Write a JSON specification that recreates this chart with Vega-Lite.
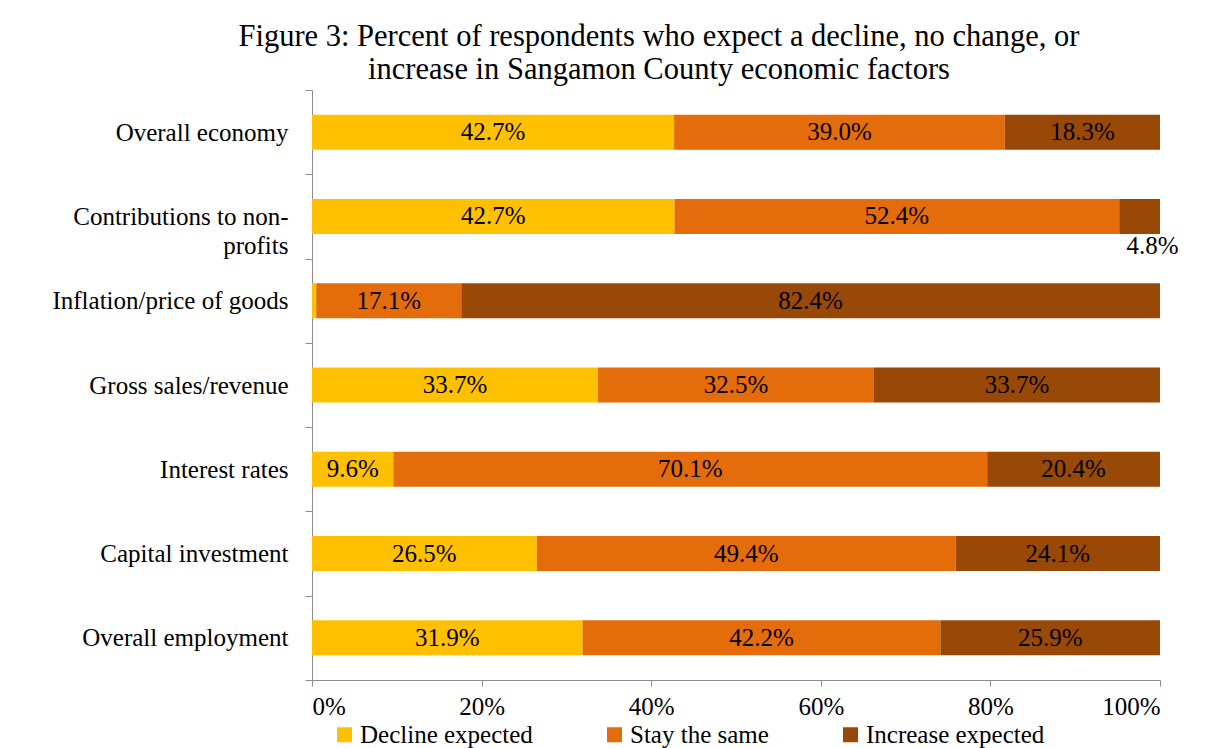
{
  "$schema": "https://vega.github.io/schema/vega-lite/v6.json",
  "autosize": {"type": "none"},
  "width": 848,
  "height": 590,
  "padding": {"left": 312, "top": 90, "right": 61, "bottom": 78},
  "background": "white",
  "config": {
    "font": "Liberation Serif",
    "view": {"stroke": null},
    "axis": {"labelFont": "Liberation Serif", "labelColor": "black", "labelFontSize": 25, "domainColor": "#8c8c8c", "tickColor": "#8c8c8c", "grid": false, "title": null}
  },
  "title": {
    "text": ["Figure 3: Percent of  respondents who expect a decline, no change, or", "increase in Sangamon County economic factors"],
    "font": "Liberation Serif",
    "fontSize": 30.5,
    "fontWeight": "normal",
    "color": "black",
    "anchor": "middle",
    "dx": -77,
    "offset": -7,
    "lineHeight": 33
  },
  "data": {
    "values": [
      {"factor": "Overall economy", "response": "Decline expected", "value": 0.427},
      {"factor": "Overall economy", "response": "Stay the same", "value": 0.390},
      {"factor": "Overall economy", "response": "Increase expected", "value": 0.183},
      {"factor": "Contributions to non-profits", "response": "Decline expected", "value": 0.427},
      {"factor": "Contributions to non-profits", "response": "Stay the same", "value": 0.524},
      {"factor": "Contributions to non-profits", "response": "Increase expected", "value": 0.048},
      {"factor": "Inflation/price of goods", "response": "Decline expected", "value": 0.005},
      {"factor": "Inflation/price of goods", "response": "Stay the same", "value": 0.171},
      {"factor": "Inflation/price of goods", "response": "Increase expected", "value": 0.824},
      {"factor": "Gross sales/revenue", "response": "Decline expected", "value": 0.337},
      {"factor": "Gross sales/revenue", "response": "Stay the same", "value": 0.325},
      {"factor": "Gross sales/revenue", "response": "Increase expected", "value": 0.337},
      {"factor": "Interest rates", "response": "Decline expected", "value": 0.096},
      {"factor": "Interest rates", "response": "Stay the same", "value": 0.701},
      {"factor": "Interest rates", "response": "Increase expected", "value": 0.204},
      {"factor": "Capital investment", "response": "Decline expected", "value": 0.265},
      {"factor": "Capital investment", "response": "Stay the same", "value": 0.494},
      {"factor": "Capital investment", "response": "Increase expected", "value": 0.241},
      {"factor": "Overall employment", "response": "Decline expected", "value": 0.319},
      {"factor": "Overall employment", "response": "Stay the same", "value": 0.422},
      {"factor": "Overall employment", "response": "Increase expected", "value": 0.259}
    ]
  },
  "transform": [
    {"calculate": "indexof(['Decline expected','Stay the same','Increase expected'], datum.response)", "as": "ord"},
    {"stack": "value", "groupby": ["factor"], "sort": [{"field": "ord", "order": "ascending"}], "offset": "normalize", "as": ["x0", "x1"]},
    {"calculate": "(datum.x0 + datum.x1) / 2", "as": "xm"}
  ],
  "encoding": {
    "y": {
      "field": "factor",
      "type": "nominal",
      "sort": ["Overall economy", "Contributions to non-profits", "Inflation/price of goods", "Gross sales/revenue", "Interest rates", "Capital investment", "Overall employment"],
      "scale": {"paddingInner": 0, "paddingOuter": 0},
      "axis": {
        "tickBand": "extent",
        "tickSize": 7,
        "labelPadding": 17,
        "labelLineHeight": 29,
        "labelLimit": 0,
        "labelExpr": "datum.label == 'Contributions to non-profits' ? ['Contributions to non-', 'profits\u00a0\u00a0\u00a0\u00a0\u00a0\u00a0\u00a0\u00a0\u00a0\u00a0\u00a0\u00a0'] : datum.label"
      }
    }
  },
  "layer": [
    {
      "mark": {"type": "bar", "height": {"band": 0.415}},
      "encoding": {
        "x": {
          "field": "x0",
          "type": "quantitative",
          "scale": {"domain": [0, 1]},
          "axis": {"values": [0, 0.2, 0.4, 0.6, 0.8, 1], "format": ".0%", "tickSize": 6, "labelPadding": 8}
        },
        "x2": {"field": "x1"},
        "color": {
          "field": "response",
          "type": "nominal",
          "scale": {"domain": ["Decline expected", "Stay the same", "Increase expected"], "range": ["#FFC000", "#E46C0A", "#984807"]},
          "legend": {
            "title": null,
            "orient": "none",
            "legendX": 20,
            "legendY": 632,
            "direction": "horizontal",
            "symbolType": "square",
            "symbolSize": 225,
            "symbolStrokeWidth": 0,
            "labelFont": "Liberation Serif",
            "labelFontSize": 25,
            "labelColor": "black",
            "labelOffset": 3,
            "columnPadding": 69,
            "labelLimit": 300
          }
        }
      }
    },
    {
      "transform": [{"filter": "datum.value >= 0.05"}],
      "mark": {"type": "text", "fontSize": 25, "color": "black", "font": "Liberation Serif"},
      "encoding": {
        "x": {"field": "xm", "type": "quantitative"},
        "text": {"field": "value", "type": "quantitative", "format": ".1%"}
      }
    },
    {
      "transform": [{"filter": "datum.value < 0.05 && datum.value > 0.01"}],
      "mark": {"type": "text", "fontSize": 25, "color": "black", "font": "Liberation Serif", "dy": 30, "dx": 13},
      "encoding": {
        "x": {"field": "xm", "type": "quantitative"},
        "text": {"field": "value", "type": "quantitative", "format": ".1%"}
      }
    }
  ]
}
